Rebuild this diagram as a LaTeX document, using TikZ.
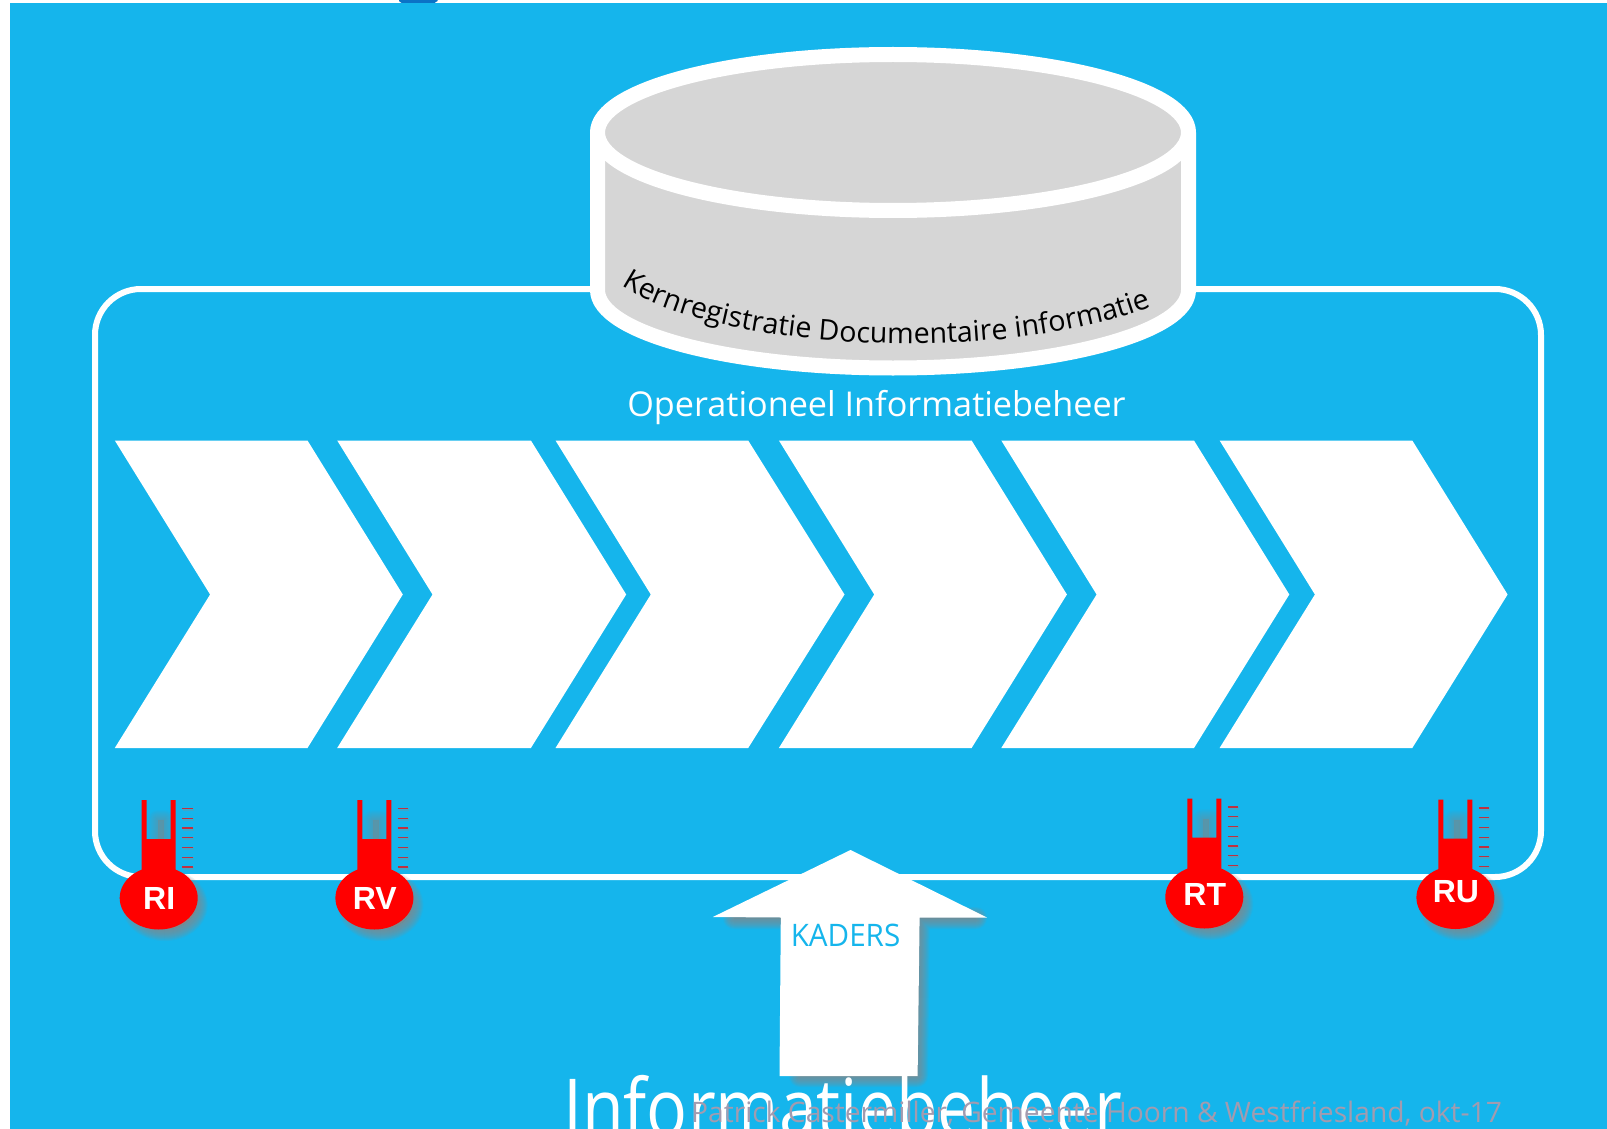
\documentclass[tikz,border=0pt]{standalone}
\usepackage{fontspec}
\setmainfont{Open Sans}
\newfontfamily\arialf{Liberation Sans}
\usetikzlibrary{shapes.geometric,decorations.text}
\definecolor{bgblue}{HTML}{15B5EC}
\definecolor{diskgray}{HTML}{D6D6D6}
\definecolor{footgray}{HTML}{A39BAF}
\definecolor{tickred}{HTML}{C0303F}
\definecolor{tabblue}{HTML}{0B72C6}
\definecolor{shadowgray}{HTML}{8A8A8A}
\tikzset{
  chevron/.style={fill=white,draw=none},
  disk/.style={fill=diskgray,draw=white,line width=15pt,line join=round},
  bulb/.style={ellipse,fill=red,draw=none,minimum width=78pt,minimum height=63pt,inner sep=0pt},
  bulbtext/.style={text=white,font=\arialf\bfseries\fontsize{32}{32}\selectfont,inner sep=0pt},
  tube/.style={fill=red,draw=none},
  tick/.style={draw=tickred,line width=1.4pt},
  softshadow/.style={fill=shadowgray,draw=shadowgray,opacity=0.11,line join=round},
  faintshadow/.style={fill=shadowgray,draw=shadowgray,opacity=0.05,line join=round},
}
\newcommand{\thermo}[5]{%
  \begin{scope}[shift={(#1,0)}]
    \foreach \w in {24,22,...,2}{
      \draw[softshadow,line width=\w pt] (6,#2+7) ellipse [x radius=31,y radius=24];
    }
    \foreach \w in {20,18,...,2}{
      \draw[faintshadow,line width=\w pt] (-1,#3+20) rectangle (5,#3+39);
    }
    \foreach \i in {0,...,6}{
      \draw[shadowgray,opacity=.3,line width=3pt] (24.5,#3+9.5+9.75*\i) -- (35,#3+9.5+9.75*\i);
      \draw[tick] (23.5,#3+8.5+9.75*\i) -- (34,#3+8.5+9.75*\i);
    }
    \fill[tube] (-17,#3) -- (-12,#3) -- (-12,#3+39) -- (12,#3+39) -- (12,#3) -- (17,#3) -- (17,#2-15) -- (-17,#2-15) -- cycle;
    \node[bulb] (#4) at (0,#2) {};
    \node[bulbtext] (#4t) at (0.5,#5) {#4};
  \end{scope}}
\begin{document}
\begin{tikzpicture}[x=1pt,y=-1pt]
\useasboundingbox (0,0) rectangle (1607,1129);
\clip (0,0) rectangle (1607,1129);
\fill[white] (0,0) rectangle (1607,1129);
\fill[tabblue] (399,0) -- (437.5,0) -- (437.5,1) .. controls (435,3) .. (431,3) -- (405,3) .. controls (401,3) .. (399,1) -- cycle;
\fill[bgblue] (10,3) rectangle (1607,1129);
\draw[white,line width=6pt,rounded corners=46pt] (95,289) rectangle (1541,877);
\fill[chevron] (114.8,440.5) -- (307.5,440.5) -- (402.8,594.5) -- (307.5,748) -- (114.8,748) -- (210.1,594.5) -- cycle;
\fill[chevron] (337.2,440.5) -- (530.9,440.5) -- (626.2,594.5) -- (530.9,748) -- (337.2,748) -- (432.5,594.5) -- cycle;
\fill[chevron] (555.5,440.5) -- (748.2,440.5) -- (844.5,594.5) -- (748.2,748) -- (555.5,748) -- (650.8,594.5) -- cycle;
\fill[chevron] (778.9,440.5) -- (971.6,440.5) -- (1066.9,594.5) -- (971.6,748) -- (778.9,748) -- (874.2,594.5) -- cycle;
\fill[chevron] (1001.3,440.5) -- (1194,440.5) -- (1289.3,594.5) -- (1194,748) -- (1001.3,748) -- (1096.6,594.5) -- cycle;
\fill[chevron] (1219.6,440.5) -- (1412.3,440.5) -- (1507.6,594.5) -- (1412.3,748) -- (1219.6,748) -- (1314.9,594.5) -- cycle;
\draw[disk] (597.5,132.5) -- (597.5,290) arc[start angle=180,end angle=0,x radius=295.5,y radius=78] -- (1188.5,132.5) -- cycle;
\draw[disk] (893,132.5) ellipse [x radius=295.5,y radius=78];
\path[postaction={decorate},decoration={text along path,text align=center,
  text={|\fontsize{28.6}{28}\selectfont|Kernregistratie Documentaire informatie}}]
  (622,286) .. controls (720,351) and (1000,365) .. (1150,307);
\node[text=white,font=\fontsize{34.2}{40}\selectfont,inner sep=0pt] (oper) at (876.5,408) {Operationeel Informatiebeheer};
\thermo{158.7}{898}{800}{RI}{898}
\thermo{374.4}{898}{800}{RV}{898}
\thermo{1204.3}{897}{798.5}{RT}{894}
\thermo{1455.4}{897.5}{799.5}{RU}{892}
\foreach \w in {22,20,...,2}{
  \draw[softshadow,line width=\w pt] (734,918) -- (976,918) -- (919,918) -- (917,1076) -- (800,1076) -- (800,918) -- cycle;
}
\fill[white] (850.5,850) -- (987,917.5) -- (919.6,917.5) -- (917.6,1076) -- (779.5,1076) -- (780.8,917.5) -- (712.8,917) -- cycle;
\node[text=bgblue,font=\fontsize{31}{36}\selectfont,inner sep=0pt,xscale=.955,transform shape] (kaders) at (845.5,935) {KADERS};
\node[anchor=base west,text=white,font=\fontsize{80}{90}\selectfont,inner sep=0pt,xscale=.85,transform shape] (title) at (563,1136) {Informatiebeheer};
\node[anchor=base west,text=footgray,font=\fontsize{28.2}{34}\selectfont,inner sep=0pt] (foot) at (691,1122) {Patrick Castermiller, Gemeente Hoorn \& Westfriesland, okt-17};
\end{tikzpicture}
\end{document}
